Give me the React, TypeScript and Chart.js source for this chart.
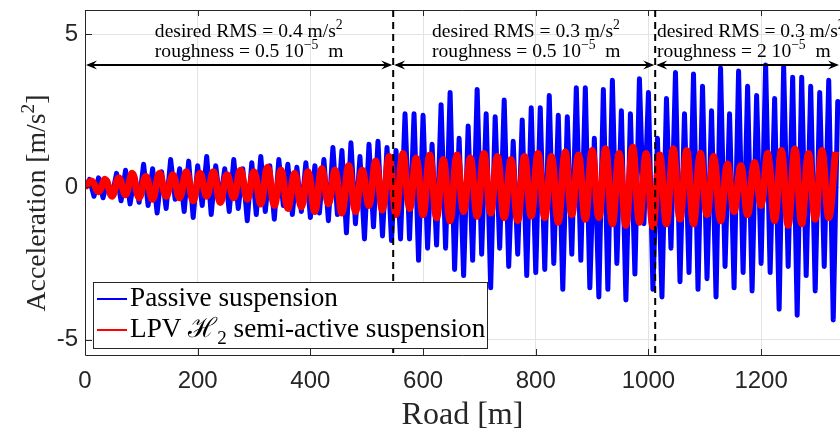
import React, { useEffect, useRef } from 'react';
import { Chart, registerables } from 'chart.js';

Chart.register(...registerables);

// Road position step (m) between successive read peaks
const BLUE_STEP = 8;
const BLUE_VALUES = [
  0, 0.25, -0.3, 0.3, -0.35, 0.2, -0.3,
  0.45, -0.45, 0.55, -0.55, 0.35, -0.5,
  0.75, -0.6, 0.6, -0.85, 0.5, -0.7, 0.9, -0.4, 0.6, -0.8, 0.85, -1.0, 0.7,
  -0.6, 1.0, -0.9, 0.7, -0.5, 0.6, -0.8, 0.9, -0.7, 0.6, -1.1, 0.8,
  -0.9, 1.0, -0.8, 0.7, -1.05, 0.9, -0.6, 0.75, -0.9, 0.65, -0.8, 0.8, -1.0,
  0.7, -0.85, 0.9, -1.1, 1.3, -0.9, 1.2, -1.5, 1.45, -1.2, 1.0, -1.7,
  1.4, -1.3, 1.5, -1.6, 1.3, -1.75, 1.2,
  -1.7, 2.4, -1.7, 2.4, -2.4, 2.35, -2.0, 1.4, -1.9, 2.7, -2.0, 3.1, -2.7, 1.6, -2.9, 2.0,
  -2.4, 3.2, -2.2, 2.4, -3.3, 2.3, -2.0, 2.85, -2.6, 1.5, -2.2, 2.2, -2.9, 2.6, -2.8,
  2.6, -2.7, 3.0, -2.5, 2.35, -3.35, 2.3, -2.2, 3.25, -2.4, 3.25, -3.3, 1.6, -3.6, 3.2, -3.35,
  3.5, -2.5, 2.5, -3.7, 2.4, -2.85, 3.55, -1.2, 3.1, -3.35, 1.6, -3.6, 2.9, -2.0, 3.75, -3.1, 2.4,
  -2.8, 3.7, -3.35, 3.3, -3.0, 2.5, -3.6, 3.9, -2.6, 2.4,
  -3.3, 3.8, -2.8, 3.3, -3.4, 3.0, -2.5, 4.0, -2.8, 2.9,
  -4.0, 3.95, -2.6, 3.6, -4.2, 3.6, -2.9, 3.3, -3.4, 3.1,
  -2.6, 3.5, -4.35, 2.8,
];

const RED_STEP = 12;
const RED_VALUES = [
  0, 0.2, -0.15, 0.25, -0.3,
  0.3, -0.25, 0.45, -0.35, 0.35,
  -0.4, 0.45, -0.3, 0.4, -0.35, 0.5,
  -0.45, 0.45, -0.3, 0.5, -0.5, 0.4,
  -0.35, 0.55, -0.4, 0.5, -0.55, 0.65,
  -0.6, 0.55, -0.7, 0.45, -0.65, 0.5,
  -0.8, 0.6, -0.55, 0.55, -0.85, 0.7,
  -0.8, 0.55, -0.6, 0.85, -0.75, 1.0,
  -0.9, 1.1, -0.7, 0.95, -0.9, 1.05,
  -1.0, 0.9, -1.1, 1.05, -0.8, 0.95,
  -0.95, 1.1, -0.85, 1.0, -1.0, 0.9,
  -1.1, 1.0, -0.95, 1.1, -1.0, 1.0,
  -1.15, 1.15, -0.9, 1.05, -1.05, 1.2,
  -1.0, 1.25, -1.2, 1.1, -1.25, 1.3,
  -1.15, 1.1, -1.3, 1.05, -1.2, 1.25,
  -1.05, 1.2, -1.2, 1.1, -0.9, 1.0,
  -1.1, 0.75, -0.8, 0.7, -0.9, 0.8,
  -0.6, 1.1, -1.1, 1.2, -1.25, 1.25,
  -1.2, 1.1, -1.05, 1.2, -1.0, 1.15,
];

const X_TICKS = [0, 200, 400, 600, 800, 1000, 1200];
const Y_TICKS = [-5, 0, 5];
const X_MIN = 0;
const X_MAX = 1340;
const Y_MIN = -5.5;
const Y_MAX = 5.8;

const SECTION_BOUNDS = [0, 547, 1012, 1340];
const ARROW_Y = 4;

type Seg = { t: string; s?: 'sup' | 'sub'; f?: string };

const SECTION_TEXTS: Seg[][][] = [
  [
    [{ t: 'desired RMS = 0.4 m/s' }, { t: '2', s: 'sup' }],
    [{ t: 'roughness = 0.5 10' }, { t: '−5', s: 'sup' }, { t: '  m' }],
  ],
  [
    [{ t: 'desired RMS = 0.3 m/s' }, { t: '2', s: 'sup' }],
    [{ t: 'roughness = 0.5 10' }, { t: '−5', s: 'sup' }, { t: '  m' }],
  ],
  [
    [{ t: 'desired RMS = 0.3 m/s' }, { t: '2', s: 'sup' }],
    [{ t: 'roughness = 2 10' }, { t: '−5', s: 'sup' }, { t: '  m' }],
  ],
];
// x position (in road metres) where each annotation block starts
const SECTION_TEXT_X = [124, 616, 1015];

const SERIES_NAMES: Seg[][] = [
  [{ t: 'Passive suspension' }],
  [{ t: 'LPV ' }, { t: 'ℋ', f: '"DejaVu Serif"' }, { t: '2', s: 'sub' }, { t: ' semi-active suspension' }],
];
const SERIES_COLORS = ['#0000ff', '#ff0000'];

const X_TITLE: Seg[] = [{ t: 'Road [m]' }];
const Y_TITLE: Seg[] = [{ t: 'Acceleration [m/s' }, { t: '2', s: 'sup' }, { t: ']' }];

const SERIF = '"Liberation Serif", "DejaVu Serif", serif';
const SANS = '"Liberation Sans", Arial, sans-serif';
const AXIS_COLOR = '#262626';

function segFont(size: number, g: Seg) {
  const sz = g.s ? size * 0.7 : size;
  return `${sz}px ${g.f ? g.f + ', ' : ''}${SERIF}`;
}
function measureRich(ctx: CanvasRenderingContext2D, segs: Seg[], size: number) {
  let w = 0;
  for (const g of segs) {
    ctx.font = segFont(size, g);
    w += ctx.measureText(g.t).width;
  }
  return w;
}
function drawRich(ctx: CanvasRenderingContext2D, segs: Seg[], x: number, y: number, size: number) {
  ctx.textBaseline = 'alphabetic';
  ctx.textAlign = 'left';
  let cx = x;
  for (const g of segs) {
    ctx.font = segFont(size, g);
    const dy = g.s === 'sup' ? -size * 0.4 : g.s === 'sub' ? size * 0.25 : 0;
    ctx.fillText(g.t, cx, y + dy);
    cx += ctx.measureText(g.t).width;
  }
}

function arrowHead(ctx: CanvasRenderingContext2D, x: number, y: number, dir: number) {
  ctx.beginPath();
  ctx.moveTo(x, y);
  ctx.lineTo(x - dir * 11, y - 4.5);
  ctx.lineTo(x - dir * 7, y);
  ctx.lineTo(x - dir * 11, y + 4.5);
  ctx.closePath();
  ctx.fill();
}

const overlayPlugin = {
  id: 'overlay',
  afterDraw(chart: any) {
    const ctx: CanvasRenderingContext2D = chart.ctx;
    const { left, right, top, bottom } = chart.chartArea;
    const xs = chart.scales.x;
    const ys = chart.scales.y;
    ctx.save();

    // axes box (left, bottom, top) and inner ticks
    ctx.strokeStyle = AXIS_COLOR;
    ctx.lineWidth = 1;
    ctx.beginPath();
    ctx.moveTo(left + 0.5, top + 0.5);
    ctx.lineTo(right, top + 0.5);
    ctx.moveTo(left + 0.5, top);
    ctx.lineTo(left + 0.5, bottom + 0.5);
    ctx.lineTo(right, bottom + 0.5);
    for (const v of X_TICKS) {
      const px = Math.round(xs.getPixelForValue(v)) + 0.5;
      ctx.moveTo(px, bottom);
      ctx.lineTo(px, bottom - 6);
      ctx.moveTo(px, top);
      ctx.lineTo(px, top + 6);
    }
    for (const v of Y_TICKS) {
      const py = Math.round(ys.getPixelForValue(v)) + 0.5;
      ctx.moveTo(left, py);
      ctx.lineTo(left + 7, py);
    }
    ctx.stroke();

    // dashed section separators
    ctx.strokeStyle = '#000';
    ctx.lineWidth = 2;
    ctx.setLineDash([7, 5]);
    for (let i = 1; i < SECTION_BOUNDS.length - 1; i++) {
      const px = xs.getPixelForValue(SECTION_BOUNDS[i]);
      ctx.beginPath();
      ctx.moveTo(px, top);
      ctx.lineTo(px, bottom);
      ctx.stroke();
    }
    ctx.setLineDash([]);

    // double arrows
    const ay = ys.getPixelForValue(ARROW_Y);
    ctx.fillStyle = '#000';
    for (let i = 0; i < SECTION_BOUNDS.length - 1; i++) {
      const x0 = xs.getPixelForValue(SECTION_BOUNDS[i]);
      const x1 = xs.getPixelForValue(SECTION_BOUNDS[i + 1]);
      ctx.beginPath();
      ctx.moveTo(x0 + 3, ay);
      ctx.lineTo(x1 - 3, ay);
      ctx.stroke();
      arrowHead(ctx, x0 + 1, ay, -1);
      arrowHead(ctx, x1 - 1, ay, 1);
    }

    // annotation texts
    const annSize = (20 * 188) / measureRich(ctx, SECTION_TEXTS[0][0], 20);
    for (let i = 0; i < SECTION_TEXTS.length; i++) {
      const tx = xs.getPixelForValue(SECTION_TEXT_X[i]);
      drawRich(ctx, SECTION_TEXTS[i][0], tx, 37, annSize);
      drawRich(ctx, SECTION_TEXTS[i][1], tx, 57, annSize);
    }

    // legend
    const lgX = 93, lgY = 282, lgW = 394, lgH = 66;
    ctx.fillStyle = '#fff';
    ctx.fillRect(lgX, lgY, lgW, lgH);
    ctx.strokeStyle = AXIS_COLOR;
    ctx.lineWidth = 1;
    ctx.strokeRect(lgX + 0.5, lgY + 0.5, lgW, lgH);
    const legSize = (20 * 208) / measureRich(ctx, SERIES_NAMES[0], 20);
    const rowsY = [299, 330];
    for (let i = 0; i < SERIES_NAMES.length; i++) {
      ctx.strokeStyle = SERIES_COLORS[i];
      ctx.lineWidth = 2;
      ctx.beginPath();
      ctx.moveTo(97, rowsY[i]);
      ctx.lineTo(127, rowsY[i]);
      ctx.stroke();
      ctx.fillStyle = '#000';
      drawRich(ctx, SERIES_NAMES[i], 130, rowsY[i] + 7, legSize);
    }

    // axis titles
    ctx.fillStyle = AXIS_COLOR;
    const xtSize = (20 * 122) / measureRich(ctx, X_TITLE, 20);
    const xtW = measureRich(ctx, X_TITLE, xtSize);
    drawRich(ctx, X_TITLE, (left + right) / 2 - xtW / 2, 424, xtSize);
    const ytSize = (20 * 217) / measureRich(ctx, Y_TITLE, 20);
    const ytW = measureRich(ctx, Y_TITLE, ytSize);
    ctx.save();
    ctx.translate(45, 203);
    ctx.rotate(-Math.PI / 2);
    drawRich(ctx, Y_TITLE, -ytW / 2, 0, ytSize);
    ctx.restore();

    ctx.restore();
  },
};

function zeroPadding(s: any) {
  s.paddingTop = 0;
  s.paddingBottom = 0;
  s.paddingLeft = 0;
  s.paddingRight = 0;
}

export default function App() {
  const canvasRef = useRef<HTMLCanvasElement>(null);

  useEffect(() => {
    const canvas = canvasRef.current;
    if (!canvas) return;
    const blue = BLUE_VALUES.map((v, i) => ({ x: i * BLUE_STEP, y: v }));
    const red = RED_VALUES.map((v, i) => ({ x: i * RED_STEP, y: v }));
    const chart = new Chart(canvas, {
      type: 'line',
      data: {
        datasets: [
          {
            label: 'LPV H2 semi-active suspension',
            data: red,
            borderColor: SERIES_COLORS[1],
            borderWidth: 7,
            pointRadius: 0,
            tension: 0.4,
            fill: false,
            order: 0,
          },
          {
            label: 'Passive suspension',
            data: blue,
            borderColor: SERIES_COLORS[0],
            borderWidth: 5,
            borderJoinStyle: 'round',
            borderCapStyle: 'round',
            pointRadius: 0,
            tension: 0,
            fill: false,
            order: 1,
          },
        ],
      },
      options: {
        responsive: false,
        animation: false,
        layout: { padding: { top: 10, right: 0, left: 0, bottom: 0 } },
        plugins: { legend: { display: false }, tooltip: { enabled: false } },
        scales: {
          x: {
            type: 'linear',
            min: X_MIN,
            max: X_MAX,
            afterBuildTicks: (s: any) => {
              s.ticks = X_TICKS.map((v) => ({ value: v }));
            },
            afterFit: (s: any) => {
              s.height = 80;
              zeroPadding(s);
            },
            grid: { color: '#e3e3e3', lineWidth: 1, drawTicks: false },
            border: { display: false },
            ticks: {
              font: { family: SANS, size: 24 },
              color: AXIS_COLOR,
              padding: 12,
              maxRotation: 0,
              autoSkip: false,
              callback: (v: any) => String(v),
            },
          },
          y: {
            type: 'linear',
            min: Y_MIN,
            max: Y_MAX,
            afterBuildTicks: (s: any) => {
              s.ticks = Y_TICKS.map((v) => ({ value: v }));
            },
            afterFit: (s: any) => {
              s.width = 85;
              zeroPadding(s);
            },
            grid: { color: '#e3e3e3', lineWidth: 1, drawTicks: false },
            border: { display: false },
            ticks: {
              font: { family: SANS, size: 24 },
              color: AXIS_COLOR,
              padding: 7,
              callback: (v: any) => String(v),
            },
          },
        },
      },
      plugins: [overlayPlugin],
    });
    return () => chart.destroy();
  }, []);

  return (
    <div style={{ position: 'absolute', left: 0, top: 0, width: 840, height: 435, background: '#fff' }}>
      <canvas ref={canvasRef} width={840} height={435} style={{ display: 'block' }} />
    </div>
  );
}
